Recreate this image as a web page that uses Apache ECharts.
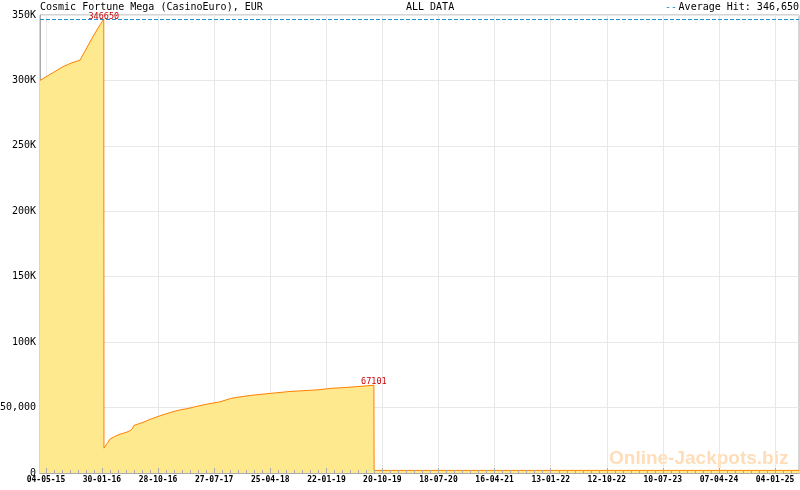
<!DOCTYPE html>
<html>
<head>
<meta charset="utf-8">
<script src="https://cdn.jsdelivr.net/npm/echarts@6/dist/echarts.min.js"></script>
<style>
html,body{margin:0;padding:0;background:#fff;}
#chart{width:800px;height:490px;}
</style>
</head>
<body>
<div id="chart"></div>
<script>
// ---- data ----
const titleText = 'Cosmic Fortune Mega (CasinoEuro), EUR';
const rangeText = 'ALL DATA';
const avgHit = 346650;
const dates = [
  '2015-04-05','2015-06-02','2015-07-25','2015-09-07','2015-10-16','2015-11-04','2015-12-18','2016-01-21','2016-02-08',
  '2016-02-09','2016-02-24','2016-03-09','2016-04-02','2016-04-27','2016-05-26','2016-06-14','2016-06-24','2016-07-03',
  '2016-08-16','2016-09-19','2016-10-28','2016-12-01','2017-01-08','2017-02-11','2017-03-22','2017-05-05','2017-06-22',
  '2017-08-24','2017-10-21','2017-12-14','2018-01-31','2018-04-23','2018-07-29','2018-12-07','2019-02-08','2019-05-16',
  '2019-07-28','2019-09-09','2019-09-10','2025-04-30'
];
const values = [
  300000,305500,310500,313500,315500,321000,333600,342500,346650,
  19000,22500,25900,28000,29700,31000,32300,33500,36300,
  38700,41000,43200,45000,46800,48200,49300,51000,52600,
  54400,57200,58500,59500,60800,62300,63500,64600,65600,
  66500,67101,2000,2000
];
const peakDates = ['2016-02-08','2019-09-09'];
const xTickLabels = ['2015-05-04','2016-01-30','2016-10-28','2017-07-27','2018-04-25','2019-01-22','2019-10-20',
  '2020-07-18','2021-04-16','2022-01-13','2022-10-12','2023-07-10','2024-04-07','2025-01-04'];
const yTickLabels = ['0','50,000','100K','150K','200K','250K','300K','350K'];
const axisMin = '2015-04-05';
const axisMax = '2025-04-30';
const watermark = 'Online-Jackpots.biz';

// ---- helpers ----
function toTime(s){const p=s.split('-').map(Number);return Date.UTC(p[0],p[1]-1,p[2]);}
function pad(n){return (n<10?'0':'')+n;}
function fmtDate(v){const d=new Date(Math.round(v));return pad(d.getUTCDate())+'-'+pad(d.getUTCMonth()+1)+'-'+pad(d.getUTCFullYear()%100);}
function fmtNum(n){return String(n).replace(/\B(?=(\d{3})+(?!\d))/g, ',');}

const mono = 'DejaVu Sans Mono';
const blue = '#1E90D0';
const gray = '#aaaaaa';
const labelTimes = xTickLabels.map(toTime);
const minT = toTime(axisMin), maxT = toTime(axisMax);
// minor ticks: 7 per label interval
const minor = [];
const step = (labelTimes[labelTimes.length-1]-labelTimes[0])/(labelTimes.length-1)/7;
for (let t = labelTimes[0]-step; t >= minT; t -= step) minor.push(t);
for (let i=0;i<labelTimes.length-1;i++){
  const a=labelTimes[i], b=labelTimes[i+1];
  for (let k=1;k<7;k++) minor.push(a+(b-a)*k/7);
}
for (let t = labelTimes[labelTimes.length-1]+step; t <= maxT; t += step) minor.push(t);

const seriesData = dates.map((d,i)=>[toTime(d), values[i]]);
const peaks = peakDates.map(d=>{const i=dates.indexOf(d);return {coord:[toTime(d),values[i]], value: values[i]};});
const hdr = {fontFamily:mono,fontSize:10,fontWeight:'normal',color:'#000'};

const chart = echarts.init(document.getElementById('chart'), null, {renderer:'canvas'});
chart.setOption({
  animation:false,
  backgroundColor:'#fff',
  title:[
    {text:titleText,left:40,top:2,padding:0,textStyle:hdr},
    {text:rangeText,left:406,top:2,padding:0,textStyle:hdr},
    {text:'Average Hit: '+fmtNum(avgHit),right:1,top:2,padding:0,textStyle:hdr},
    {text:'--',right:123,top:2,padding:0,textStyle:Object.assign({},hdr,{color:blue})}
  ],
  grid:{left:40,right:1,top:15,bottom:17,outerBoundsMode:'none',containLabel:false,show:true,borderColor:gray,borderWidth:1,backgroundColor:'transparent'},
  xAxis:[
    {type:'value',min:minT,max:maxT,
     axisLine:{show:true,lineStyle:{color:gray}},
     axisTick:{show:false,customValues:labelTimes},
     axisLabel:{customValues:labelTimes,formatter:(v)=>fmtDate(v),fontFamily:mono,fontSize:8,fontWeight:'bold',color:'#000',margin:3,hideOverlap:false},
     splitLine:{show:true,lineStyle:{color:'#e8e8e8'}}},
    {type:'value',min:minT,max:maxT,position:'bottom',gridIndex:0,z:10,
     axisLine:{show:true,lineStyle:{color:gray}},
     axisTick:{show:true,inside:true,length:3,customValues:minor,lineStyle:{color:gray}},
     axisLabel:{show:false},splitLine:{show:false}},
    {type:'value',min:minT,max:maxT,position:'bottom',gridIndex:0,z:10,
     axisLine:{show:false},
     axisTick:{show:true,inside:true,length:5,customValues:labelTimes,lineStyle:{color:gray}},
     axisLabel:{show:false},splitLine:{show:false}}
  ],
  yAxis:{type:'value',min:0,max:350000,interval:50000,
    axisLine:{show:true,lineStyle:{color:gray}},axisTick:{show:false},
    axisLabel:{formatter:(v)=>yTickLabels[Math.round(v/50000)],fontFamily:mono,fontSize:10,color:'#000',margin:4},
    splitLine:{show:true,lineStyle:{color:'#e8e8e8'}}},
  graphic:[{type:'text',left:609,top:449,z:-10,silent:true,
    style:{text:watermark,font:'bold 19px "Liberation Sans"',fill:'#FFDDB8'}}],
  series:[{
    type:'line',xAxisIndex:0,yAxisIndex:0,data:seriesData,showSymbol:false,symbol:'none',
    lineStyle:{color:'#FF8000',width:1},
    areaStyle:{color:'#FFE98F',opacity:1},
    markLine:{silent:true,symbol:['none','none'],label:{show:false},
      lineStyle:{color:blue,type:[4,2],width:1,opacity:1},
      emphasis:{disabled:true},
      data:[{yAxis:avgHit}]},
    markPoint:{symbol:'circle',symbolSize:1,itemStyle:{color:'rgba(0,0,0,0)'},
      label:{show:true,position:'top',distance:-2,formatter:(p)=>String(p.value),color:'#CC0000',fontFamily:mono,fontSize:8.5},
      data:peaks}
  }]
});
</script>
</body>
</html>
